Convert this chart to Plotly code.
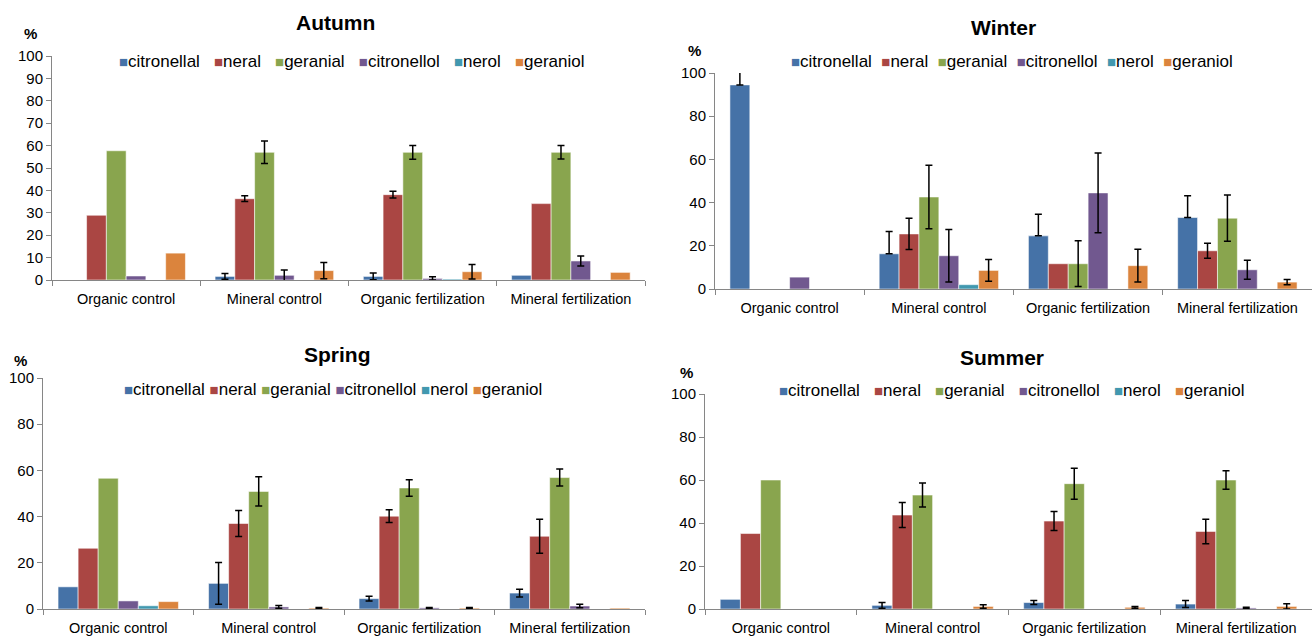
import numpy as np
import plotly.graph_objects as go

categories = ["Organic control", "Mineral control", "Organic fertilization", "Mineral fertilization"]
compounds = ["citronellal", "neral", "geranial", "citronellol", "nerol", "geraniol"]
colors = ["#4572A7", "#AA4643", "#89A54E", "#71588F", "#4198AF", "#DB843D"]

# error value 0 means "no error bar drawn"

# ---- Autumn ----
autumn_values = {
    "citronellal": [0, 1.6, 1.6, 2.1],
    "neral": [28.9, 36.3, 38.1, 34.1],
    "geranial": [57.7, 57.0, 57.0, 57.0],
    "citronellol": [1.8, 2.1, 0.7, 8.5],
    "nerol": [0, 0, 0.4, 0],
    "geraniol": [12.0, 4.2, 3.7, 3.4],
}
autumn_err = {
    "citronellal": [0, 1.3, 1.5, 0],
    "neral": [0, 1.3, 1.5, 0],
    "geranial": [0, 5.0, 3.1, 3.0],
    "citronellol": [0, 2.4, 0.7, 2.2],
    "nerol": [0, 0, 0, 0],
    "geraniol": [0, 3.6, 3.2, 0],
}

# ---- Winter ----
winter_values = {
    "citronellal": [94.5, 16.3, 24.6, 33.1],
    "neral": [0, 25.5, 11.7, 17.7],
    "geranial": [0, 42.6, 11.7, 32.8],
    "citronellol": [5.5, 15.4, 44.5, 8.9],
    "nerol": [0, 2.0, 0, 0],
    "geraniol": [0, 8.6, 10.8, 3.2],
}
winter_err = {
    "citronellal": [7.0, 10.3, 10.0, 10.1],
    "neral": [0, 7.2, 0, 3.5],
    "geranial": [0, 14.7, 10.6, 10.7],
    "citronellol": [0, 12.2, 18.5, 4.4],
    "nerol": [0, 0, 0, 0],
    "geraniol": [0, 5.0, 7.6, 1.2],
}
winter_citronellal_err_minus = [0, 0, 0, 0]

# ---- Spring ----
spring_values = {
    "citronellal": [9.6, 11.1, 4.5, 6.9],
    "neral": [26.3, 37.0, 40.2, 31.5],
    "geranial": [56.6, 50.9, 52.4, 56.9],
    "citronellol": [3.5, 0.9, 0.5, 1.3],
    "nerol": [1.4, 0, 0, 0],
    "geraniol": [3.2, 0.4, 0.4, 0.4],
}
spring_err = {
    "citronellal": [0, 9.0, 1.0, 1.7],
    "neral": [0, 5.6, 2.8, 7.4],
    "geranial": [0, 6.3, 3.6, 3.7],
    "citronellol": [0, 0.6, 0.2, 0.8],
    "nerol": [0, 0, 0, 0],
    "geraniol": [0, 0.3, 0.2, 0],
}

# ---- Summer ----
summer_values = {
    "citronellal": [4.5, 1.7, 3.0, 2.3],
    "neral": [35.1, 43.7, 40.9, 36.1],
    "geranial": [60.0, 53.0, 58.3, 60.0],
    "citronellol": [0, 0, 0, 0.5],
    "nerol": [0, 0, 0, 0],
    "geraniol": [0, 1.2, 0.8, 1.2],
}
summer_err = {
    "citronellal": [0, 1.3, 0.9, 1.6],
    "neral": [0, 5.8, 4.4, 5.7],
    "geranial": [0, 5.6, 7.2, 4.3],
    "citronellol": [0, 0, 0, 0.3],
    "nerol": [0, 0, 0, 0],
    "geraniol": [0, 0.8, 0.4, 1.2],
}

W, H = 1314, 639
FONT = "Liberation Sans, Arial, sans-serif"
AXIS_GREY = "#868686"


def px_x(x):
    return x / W


def px_y(y):
    return 1 - y / H


def err_array(vals):
    # zero error -> NaN so plotly draws no cap at all
    a = np.array(vals, dtype=float)
    a[a == 0] = np.nan
    return a


# panel geometry in pixels: (x_left, x_right, y_zero, y_hundred)
panels = [
    dict(name="Autumn", values=autumn_values, err=autumn_err, minus={}, dtick=10,
         box=(52, 645, 280, 56), title=(335, 23), pct=(30, 34), legend=(351, 62), gap=3),
    dict(name="Winter", values=winter_values, err=winter_err,
         minus={"citronellal": winter_citronellal_err_minus}, dtick=20,
         box=(715, 1312, 289, 73), title=(1003, 28), pct=(694, 50), legend=(1012, 61), gap=2),
    dict(name="Spring", values=spring_values, err=spring_err, minus={}, dtick=20,
         box=(43, 645, 609, 378), title=(337, 354), pct=(20, 360), legend=(333, 389), gap=1),
    dict(name="Summer", values=summer_values, err=summer_err, minus={}, dtick=20,
         box=(705, 1312, 609, 394), title=(1002, 357), pct=(686, 372), legend=(1011, 391), gap=3),
]

fig = go.Figure()
annotations = []
layout_axes = {}

for i, p in enumerate(panels):
    idx = "" if i == 0 else str(i + 1)
    xref, yref = "x" + idx, "y" + idx
    for comp, col in zip(compounds, colors):
        err = p["err"][comp]
        plus = err_array(err)
        if comp in p["minus"]:
            minus = np.array(p["minus"][comp], dtype=float)
        else:
            minus = err_array(err)
        fig.add_trace(go.Bar(
            x=categories, y=p["values"][comp], name=comp,
            marker=dict(color=col, line=dict(color="rgba(255,255,255,0.55)", width=1)),
            error_y=dict(type="data", symmetric=False, array=plus, arrayminus=minus,
                         color="black", thickness=1.5, width=3.5),
            xaxis=xref, yaxis=yref, showlegend=False,
        ))
    x0, x1, y0, y100 = p["box"]
    layout_axes["xaxis" + idx] = dict(
        domain=[px_x(x0), px_x(x1)], anchor=yref, type="category",
        showline=True, linecolor=AXIS_GREY, linewidth=1,
        ticks="outside", tickson="boundaries", ticklen=5, tickcolor=AXIS_GREY,
        ticklabelstandoff=6,
        tickfont=dict(family=FONT, size=14.5, color="black"),
        showgrid=False, zeroline=False, fixedrange=True,
    )
    layout_axes["yaxis" + idx] = dict(
        domain=[px_y(y0), px_y(y100)], anchor=xref, range=[0, 100], dtick=p["dtick"],
        showline=True, linecolor=AXIS_GREY, linewidth=1,
        ticks="outside", ticklen=5, tickcolor=AXIS_GREY,
        tickfont=dict(family=FONT, size=15, color="black"),
        showgrid=False, zeroline=False, fixedrange=True,
    )
    tx, ty = p["title"]
    annotations.append(dict(text="<b>%s</b>" % p["name"], x=px_x(tx), y=px_y(ty),
                            xref="paper", yref="paper", showarrow=False,
                            xanchor="center", yanchor="middle",
                            font=dict(family=FONT, size=21, color="black")))
    qx, qy = p["pct"]
    annotations.append(dict(text="<b>%</b>", x=px_x(qx), y=px_y(qy),
                            xref="paper", yref="paper", showarrow=False,
                            xanchor="center", yanchor="middle",
                            font=dict(family=FONT, size=15, color="black")))
    sep = "&nbsp;" * p["gap"]
    items = []
    for comp, col in zip(compounds, colors):
        items.append('<span style="color:%s;font-size:15px">■</span>%s' % (col, comp))
    lx, ly = p["legend"]
    annotations.append(dict(text=sep.join(items), x=px_x(lx), y=px_y(ly),
                            xref="paper", yref="paper", showarrow=False,
                            xanchor="center", yanchor="middle",
                            font=dict(family=FONT, size=17, color="black")))

fig.update_layout(
    width=W, height=H,
    margin=dict(l=0, r=0, t=0, b=0, autoexpand=False),
    paper_bgcolor="white", plot_bgcolor="white",
    barmode="group", bargap=0.2, bargroupgap=0,
    annotations=annotations,
    showlegend=False,
    **layout_axes,
)

fig.write_html("out.html", config={"displayModeBar": False},
               post_script="document.body.style.margin='0px';")
